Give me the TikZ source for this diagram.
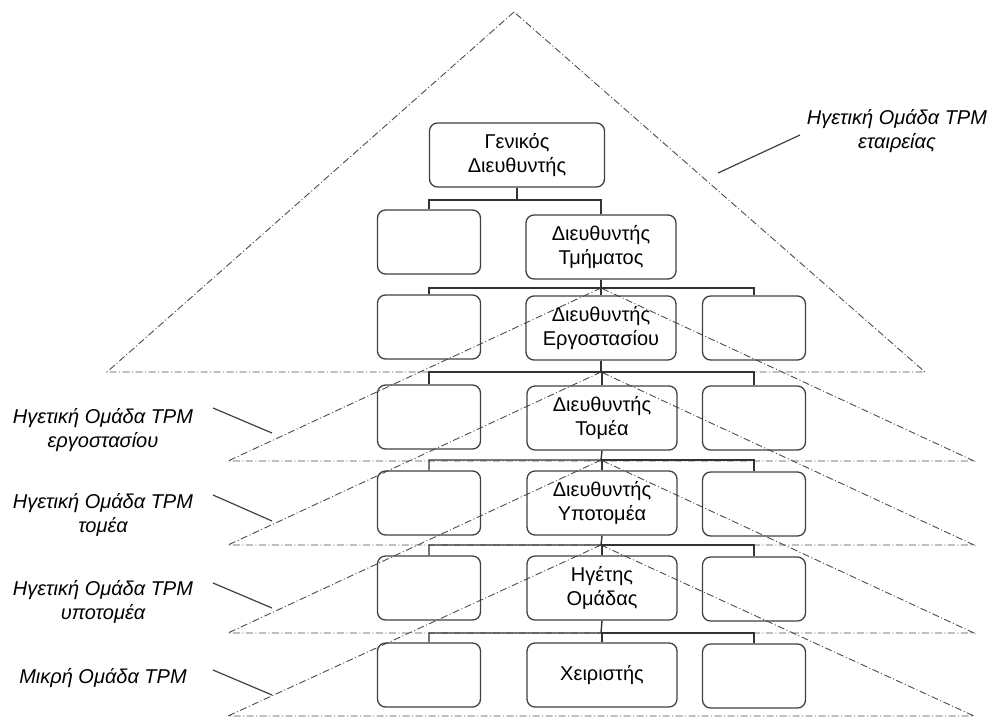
\documentclass[tikz,border=0pt]{standalone}
\usepackage{fontspec}
\setmainfont{Liberation Sans}
\begin{document}
\begin{tikzpicture}[x=1pt,y=-1pt,
  box/.style={draw=black!75, line width=1.3pt, rounded corners=8pt, align=center, font=\fontsize{20}{23.5}\selectfont, inner sep=0pt},
  side/.style={box, minimum width=103pt, minimum height=64pt},
  mid/.style={box, minimum width=150pt, minimum height=64pt},
  conn/.style={draw=black!80, line width=1.4pt},
  tri/.style={draw=black!70, line width=0.9pt, dash pattern=on 7pt off 2.5pt on 1pt off 2.5pt},
  lab/.style={font=\fontsize{20}{24}\selectfont\itshape, align=center},
  lead/.style={draw=black!75, line width=1.2pt}]
\useasboundingbox (0,0) rectangle (992,718);
% junctions
\coordinate (j1) at (517,200);
\coordinate (j2) at (601,288);
\coordinate (j3) at (601,372);
\coordinate (j4) at (601,460);
\coordinate (j5) at (601,545);
\coordinate (j6) at (601,633);
\coordinate (top) at (514,12);
% triangles
\draw[tri] (top) -- (107,372) -- (925,372) -- cycle;
\draw[tri] (j2) -- (228,461) -- (974,461) -- cycle;
\draw[tri] (j3) -- (228,545) -- (974,545) -- cycle;
\draw[tri] (j4) -- (228,633) -- (974,633) -- cycle;
\draw[tri] (j5) -- (228,716) -- (974,716) -- cycle;
% boxes
\node[box, minimum width=175pt, minimum height=64pt] (gd) at (517,155) {Γενικός\\Διευθυντής};
\node[side] (l2) at (429,242) {};
\node[mid] (c2) at (601,247) {Διευθυντής\\Τμήματος};
\node[side] (l3) at (429,327) {};
\node[mid] (c3) at (601,328) {Διευθυντής\\Εργοστασίου};
\node[side] (r3) at (754,328) {};
\node[side] (l4) at (429,417) {};
\node[mid] (c4) at (602,418) {Διευθυντής\\Τομέα};
\node[side] (r4) at (754,418) {};
\node[side] (l5) at (429,503) {};
\node[mid] (c5) at (602,503) {Διευθυντής\\Υποτομέα};
\node[side] (r5) at (754,504) {};
\node[side] (l6) at (429,588) {};
\node[mid] (c6) at (602,588) {Ηγέτης\\Ομάδας};
\node[side] (r6) at (754,589) {};
\node[side] (l7) at (429,675) {};
\node[mid] (c7) at (602,675) {Χειριστής};
\node[side] (r7) at (754,676) {};
% connectors
\draw[conn] (gd.south) -- (j1) -| (l2.north);
\draw[conn] (j1) -| (c2.north);
\draw[conn] (c2.south) -- (j2) -| (l3.north);
\draw[conn] (j2) -| (c3.north);
\draw[conn] (j2) -| (r3.north);
\draw[conn] (c3.south) -- (j3) -| (l4.north);
\draw[conn] (j3) -| (c4.north);
\draw[conn] (j3) -| (r4.north);
\draw[conn] (c4.south) -- (j4) -| (l5.north);
\draw[conn] (j4) -| (c5.north);
\draw[conn] (j4) -| (r5.north);
\draw[conn] (c5.south) -- (j5) -| (l6.north);
\draw[conn] (j5) -| (c6.north);
\draw[conn] (j5) -| (r6.north);
\draw[conn] (c6.south) -- (j6) -| (l7.north);
\draw[conn] (j6) -| (c7.north);
\draw[conn] (j6) -| (r7.north);
% labels
\node[lab] (t0) at (897,131) {Ηγετική Ομάδα TPM\\εταιρείας};
\node[lab] (t1) at (103,430) {Ηγετική Ομάδα TPM\\εργοστασίου};
\node[lab] (t2) at (103,515) {Ηγετική Ομάδα TPM\\τομέα};
\node[lab] (t3) at (103,602) {Ηγετική Ομάδα TPM\\υποτομέα};
\node[lab] (t4) at (103,678) {Μικρή Ομάδα TPM};
% leader lines
\coordinate (a0) at (800,135); \coordinate (b0) at (718,173);
\coordinate (a1) at (213,408); \coordinate (b1) at (272,433);
\coordinate (a2) at (213,495); \coordinate (b2) at (272,521);
\coordinate (a3) at (213,583); \coordinate (b3) at (272,608);
\coordinate (a4) at (213,670); \coordinate (b4) at (272,695);
\draw[lead] (a0) -- (b0);
\draw[lead] (a1) -- (b1);
\draw[lead] (a2) -- (b2);
\draw[lead] (a3) -- (b3);
\draw[lead] (a4) -- (b4);
\end{tikzpicture}
\end{document}
